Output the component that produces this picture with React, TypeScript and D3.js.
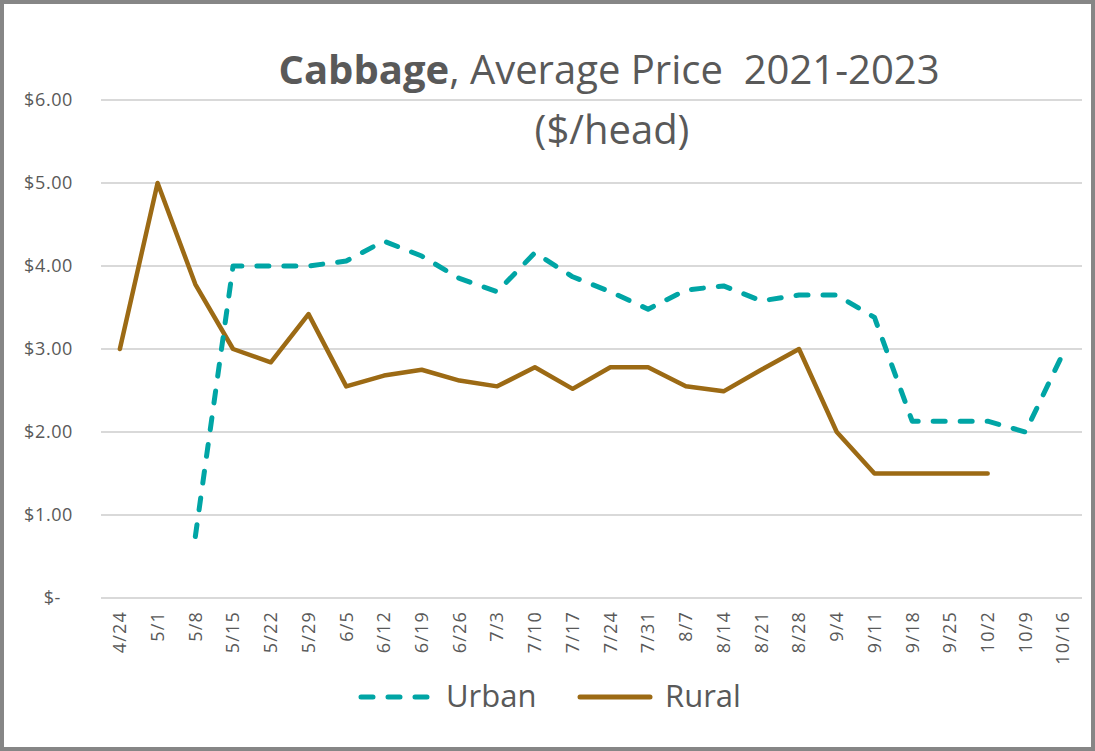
import React, { useEffect, useRef } from 'react';
import * as d3 from 'd3';

const weeks = ['4/24', '5/1', '5/8', '5/15', '5/22', '5/29', '6/5', '6/12', '6/19', '6/26', '7/3', '7/10', '7/17', '7/24', '7/31', '8/7', '8/14', '8/21', '8/28', '9/4', '9/11', '9/18', '9/25', '10/2', '10/9', '10/16'];
const urban: (number | null)[] = [null, null, 0.74, 4.0, 4.0, 4.0, 4.06, 4.3, 4.12, 3.85, 3.69, 4.16, 3.87, 3.69, 3.48, 3.71, 3.76, 3.58, 3.65, 3.65, 3.38, 2.13, 2.13, 2.13, 2.0, 2.95];
const rural: (number | null)[] = [3.0, 5.0, 3.78, 3.0, 2.84, 3.42, 2.55, 2.68, 2.75, 2.62, 2.55, 2.78, 2.52, 2.78, 2.78, 2.55, 2.49, 2.75, 3.0, 2.0, 1.5, 1.5, 1.5, 1.5, null, null];
const yTicks = [0, 1, 2, 3, 4, 5, 6];
const seriesNames = ['Urban', 'Rural'];

const W = 1095;
const H = 751;
const FONT = "'Open Sans', 'Liberation Sans', sans-serif";
const TEXT = '#595959';
const URBAN_COLOR = '#00A5A5';
const RURAL_COLOR = '#9C6A14';

const App: React.FC = () => {
  const svgRef = useRef<SVGSVGElement>(null);

  useEffect(() => {
    if (!svgRef.current) return;
    const svg = d3.select(svgRef.current);
    svg.selectAll('*').remove();

    const margin = { top: 100, right: 13, bottom: 153, left: 101 };

    const x = d3.scaleBand<string>()
      .domain(weeks)
      .range([margin.left, W - margin.right]);

    const y = d3.scaleLinear()
      .domain([0, 6])
      .range([H - margin.bottom, margin.top]);

    // background + border
    svg.append('rect')
      .attr('x', 2).attr('y', 2)
      .attr('width', W - 4).attr('height', H - 4)
      .attr('fill', '#fff')
      .attr('stroke', '#868686')
      .attr('stroke-width', 4);

    // gridlines
    svg.append('g')
      .selectAll('line')
      .data(yTicks)
      .enter().append('line')
      .attr('x1', margin.left)
      .attr('x2', W - margin.right)
      .attr('y1', d => y(d))
      .attr('y2', d => y(d))
      .attr('stroke', '#d9d9d9')
      .attr('stroke-width', 2);

    // y labels
    svg.append('g')
      .selectAll('text')
      .data(yTicks)
      .enter().append('text')
      .attr('x', d => d === 0 ? 61 : 73)
      .attr('y', d => y(d))
      .attr('dy', '0.35em')
      .attr('text-anchor', 'end')
      .attr('font-family', FONT)
      .attr('font-size', 18)
      .attr('letter-spacing', 0.6)
      .attr('fill', TEXT)
      .text(d => d === 0 ? '$-' : d3.format('$.2f')(d));

    // x labels
    svg.append('g')
      .selectAll('text')
      .data(weeks)
      .enter().append('text')
      .attr('transform', d => `translate(${(x(d) ?? 0) + x.bandwidth() / 2},${y(0) + 13}) rotate(-90)`)
      .attr('dy', '0.35em')
      .attr('text-anchor', 'end')
      .attr('font-family', FONT)
      .attr('font-size', 18)
      .attr('letter-spacing', 1.2)
      .attr('fill', TEXT)
      .text(d => d);

    const line = d3.line<number | null>()
      .defined(d => d !== null)
      .x((_, i) => (x(weeks[i]) ?? 0) + x.bandwidth() / 2)
      .y(d => y(d as number));

    svg.append('path')
      .datum(rural)
      .attr('d', line)
      .attr('fill', 'none')
      .attr('stroke', RURAL_COLOR)
      .attr('stroke-width', 4.5)
      .attr('stroke-linejoin', 'round')
      .attr('stroke-linecap', 'round');

    svg.append('path')
      .datum(urban)
      .attr('d', line)
      .attr('fill', 'none')
      .attr('stroke', URBAN_COLOR)
      .attr('stroke-width', 5)
      .attr('stroke-dasharray', '12 15')
      .attr('stroke-linejoin', 'round')
      .attr('stroke-linecap', 'round');

    // title
    const title = svg.append('text')
      .attr('x', 609)
      .attr('y', 84)
      .attr('text-anchor', 'middle')
      .attr('font-family', FONT)
      .attr('font-size', 40)
      .attr('fill', TEXT)
      .style('white-space', 'pre');
    title.append('tspan').attr('font-weight', 'bold').text('Cabbage');
    title.append('tspan').text(', Average Price  2021-2023');

    svg.append('text')
      .attr('x', 612)
      .attr('y', 144)
      .attr('text-anchor', 'middle')
      .attr('font-family', FONT)
      .attr('font-size', 40)
      .attr('fill', TEXT)
      .text('($/head)');

    // legend
    const legend = svg.append('g');
    const items = [
      { name: seriesNames[0], color: URBAN_COLOR, dash: '12 15', x0: 361, w: 66, tx: 446 },
      { name: seriesNames[1], color: RURAL_COLOR, dash: null, x0: 580, w: 70, tx: 665 },
    ];
    items.forEach(it => {
      legend.append('line')
        .attr('x1', it.x0).attr('x2', it.x0 + it.w)
        .attr('y1', 697).attr('y2', 697)
        .attr('stroke', it.color)
        .attr('stroke-width', 5)
        .attr('stroke-linecap', 'round')
        .attr('stroke-dasharray', it.dash ?? null);
      legend.append('text')
        .attr('x', it.tx)
        .attr('y', 707)
        .attr('font-family', FONT)
        .attr('font-size', 31)
        .attr('fill', TEXT)
        .text(it.name);
    });
  }, []);

  return (
    <div style={{ position: 'absolute', top: 0, left: 0 }}>
      <svg ref={svgRef} width={W} height={H}></svg>
    </div>
  );
};

export default App;
